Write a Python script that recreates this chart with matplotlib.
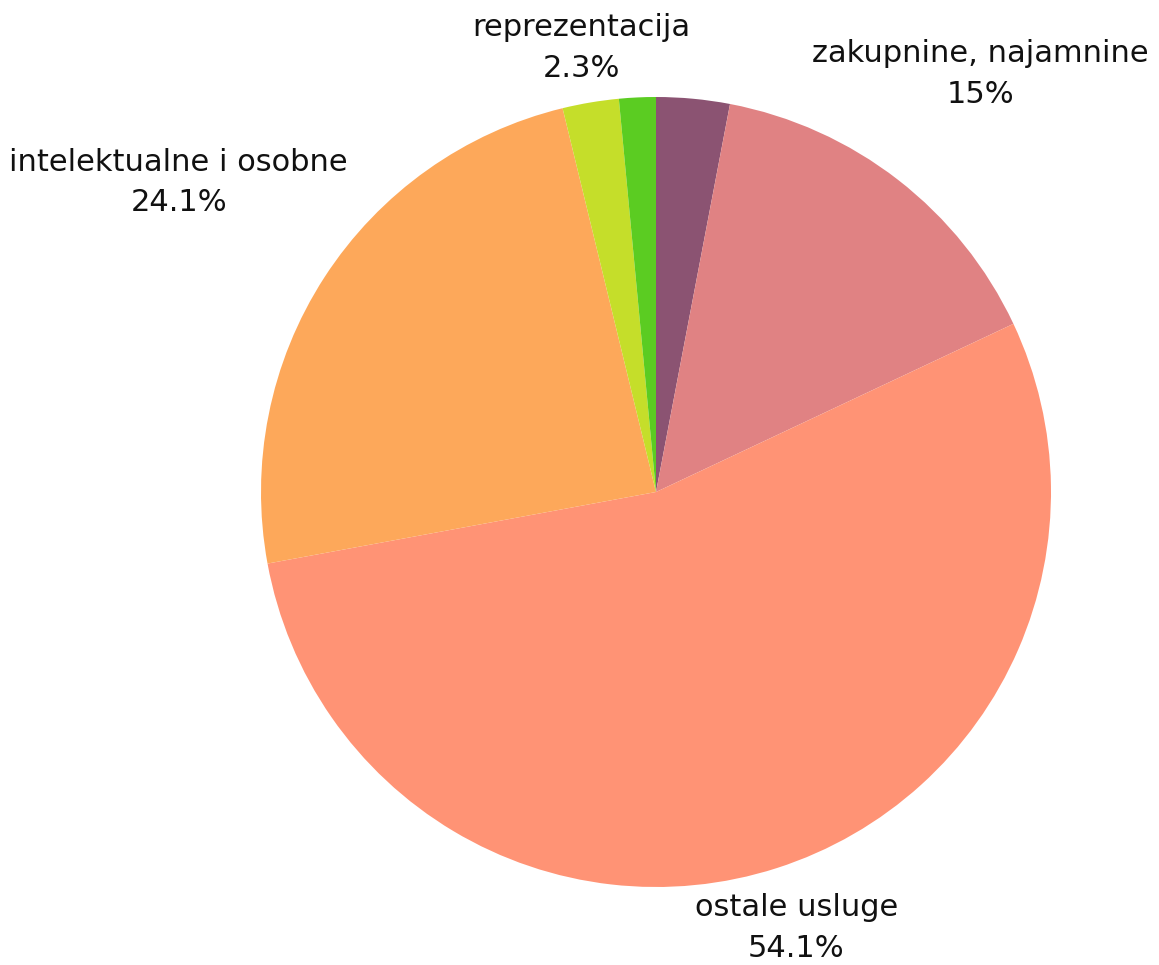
import numpy as np
import matplotlib.pyplot as plt

# Struktura rashoda za usluge (%)
categories = ["", "zakupnine, najamnine", "ostale usluge",
              "intelektualne i osobne", "reprezentacija", ""]
values = [3.0, 15.0, 54.1, 24.1, 2.3, 1.5]
colors = ["#8B5372", "#E08283", "#FF9375", "#FDA85A", "#C5DE2A", "#5BCC22"]
# how far out (in radii) each label block sits
label_dist = [1.15, 1.34, 1.16, 1.44, 1.14, 1.15]

plt.rcParams['font.family'] = ['DejaVu Sans']

fig = plt.figure(figsize=(11.59, 9.65), dpi=100)
ax = fig.add_axes([0, 0, 1, 1])

R = 395
wedges, _ = ax.pie(values, colors=colors, radius=R, startangle=90,
                   counterclock=False, center=(0, 0),
                   wedgeprops=dict(linewidth=0))

for w, lab, v, d in zip(wedges, categories, values, label_dist):
    if not lab:
        continue
    ang = np.deg2rad((w.theta1 + w.theta2) / 2)
    x, y = R * d * np.cos(ang), R * d * np.sin(ang)
    txt = f"{v:g}%"
    ax.text(x, y, f"{lab}\n{txt}", ha="center", va="center",
            fontsize=22, linespacing=1.5, color="#111111")

ax.set_xlim(-656, 1159 - 656)
ax.set_ylim(-(965 - 492), 492)
ax.set_aspect("auto")
ax.axis("off")

plt.savefig("out.png", dpi=100)
